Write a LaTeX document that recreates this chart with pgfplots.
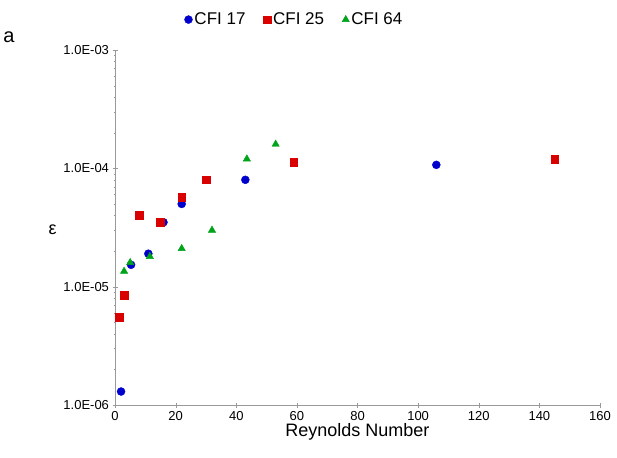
\documentclass[border=0pt]{standalone}
\usepackage{pgfplots}
\pgfplotsset{compat=1.18}
\usepackage{fontspec}
\setmainfont{Liberation Sans}
\begin{document}
\begin{tikzpicture}
\useasboundingbox (-115pt,-52pt) rectangle (502pt,405pt);
\begin{axis}[
 at={(0,0)}, anchor=south west,
 width=485pt, height=355pt, scale only axis,
 xmin=0,xmax=160, ymin=1e-6,ymax=1e-3, ymode=log,
 axis lines=left, axis line style={gray!80,-}, 
 xtick={0,20,...,160}, ytick={1e-6,1e-5,1e-4,1e-3},
 yticklabels={1.0E-06,1.0E-05,1.0E-04,1.0E-03},
 tick style={gray!80}, major tick length=5pt, minor tick num=0,
 ticklabel style={font=\fontsize{13}{15}\selectfont},
 /pgf/number format/assume math mode=true,
 xlabel={Reynolds Number}, ylabel={ε},
 xlabel style={font=\fontsize{18}{20}\selectfont, yshift=4pt},
 ylabel style={font=\fontsize{18}{20}\selectfont, rotate=-90, yshift=-2pt},
 legend style={at={(0.37,1.055)},anchor=south,draw=none,legend columns=3,font=\fontsize{17}{19}\selectfont,/tikz/every even column/.append style={column sep=16pt}},
 clip=false,
]
\addplot[only marks,mark=*,color=blue!80!black,mark size=4pt] coordinates {(2,1.3e-6)(5.3,1.53e-5)(11,1.9e-5)(16,3.5e-5)(22,5e-5)(43,8e-5)(106,1.07e-4)};
\addlegendentry{CFI 17}
\addplot[only marks,mark=square*,color=red!85!black,mark size=3.8pt] coordinates {(1.3,5.5e-6)(3,8.5e-6)(8,4e-5)(15,3.5e-5)(22,5.7e-5)(30,8e-5)(59,1.13e-4)(145,1.2e-4)};
\addlegendentry{CFI 25}
\addplot[only marks,mark=triangle*,color=green!60!black!90!cyan,mark size=4.2pt] coordinates {(3,1.35e-5)(5,1.6e-5)(11.5,1.8e-5)(22,2.1e-5)(32,3e-5)(43.5,1.2e-4)(53,1.6e-4)};
\addlegendentry{CFI 64}
\end{axis}
\node[font=\fontsize{20}{22}\selectfont] at (-106pt,368pt) {a};
\end{tikzpicture}
\end{document}
